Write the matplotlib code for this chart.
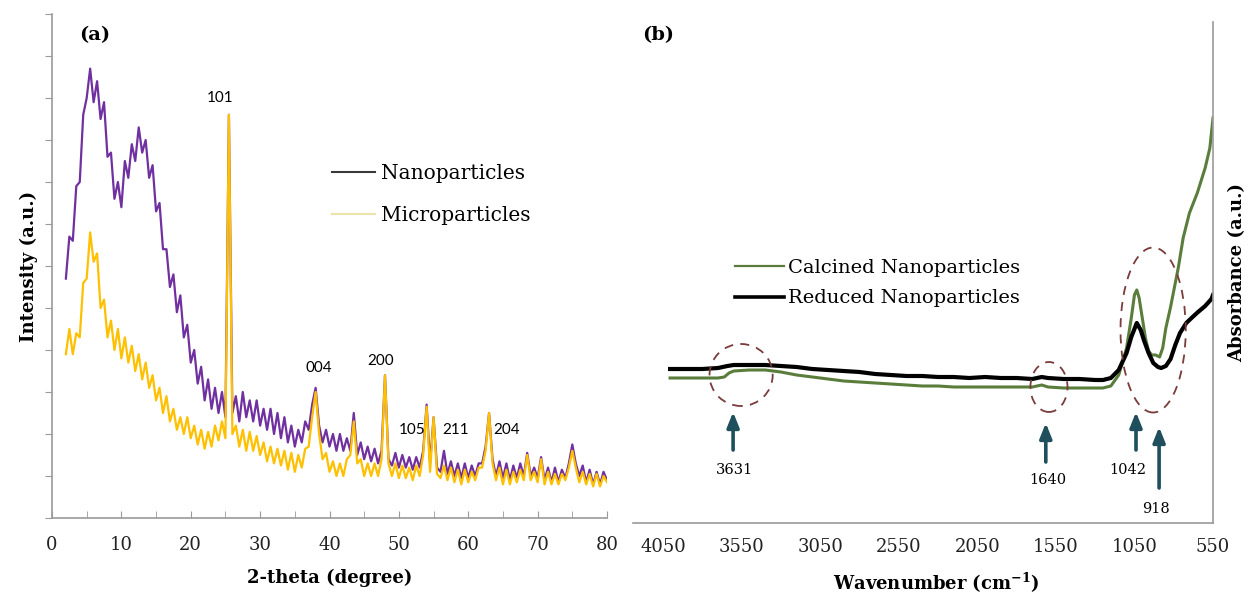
import numpy as np
import matplotlib
matplotlib.use('Agg')
import matplotlib.pyplot as plt
from matplotlib.lines import Line2D
from matplotlib.patches import Ellipse

plt.rcParams['font.family'] = ['DejaVu Serif']
plt.rcParams['mathtext.fontset'] = 'dejavuserif'

# ---- (a) XRD ----
TWO_THETA = np.arange(2.0, 80.01, 0.5)
NANO = [5.7, 6.7, 6.6, 7.9, 8.0, 9.6, 10.0, 10.7, 9.9, 10.4,
        9.5, 9.9, 8.6, 8.7, 7.6, 8.0, 7.4, 8.5, 8.1, 8.9,
        8.5, 9.3, 8.7, 9.0, 8.1, 8.4, 7.3, 7.5, 6.4, 6.4,
        5.5, 5.8, 4.9, 5.3, 4.3, 4.6, 3.7, 4.0, 3.2, 3.6,
        2.8, 3.3, 2.6, 3.1, 2.5, 3.0, 2.4, 9.6, 2.5, 2.9,
        2.3, 3.0, 2.4, 2.8, 2.3, 2.8, 2.2, 2.6, 2.1, 2.6,
        2.0, 2.5, 1.9, 2.4, 1.8, 2.2, 1.7, 2.1, 1.8, 2.3,
        2.1, 2.7, 3.1, 2.2, 1.8, 2.1, 1.7, 2.0, 1.6, 2.0,
        1.6, 1.9, 1.6, 2.5, 1.5, 1.8, 1.4, 1.7, 1.35, 1.65,
        1.3, 1.6, 3.4, 1.4, 1.25, 1.55, 1.2, 1.5, 1.2, 1.45,
        1.15, 1.45, 1.2, 1.6, 2.7, 1.3, 2.4, 1.2, 1.1, 1.6,
        1.05, 1.35, 1.0, 1.3, 0.95, 1.3, 0.95, 1.25, 1.0, 1.3,
        1.3, 1.7, 2.5, 1.4, 1.0, 1.35, 0.95, 1.3, 0.9, 1.25,
        0.95, 1.3, 1.0, 1.55, 1.0, 1.2, 0.95, 1.45, 0.9, 1.2,
        0.85, 1.2, 0.85, 1.15, 0.95, 1.3, 1.75, 1.3, 1.0, 1.25,
        0.85, 1.15, 0.8, 1.1, 0.8, 1.1, 0.9]
MICRO = [3.9, 4.5, 3.9, 4.4, 4.3, 5.6, 5.7, 6.8, 6.1, 6.3,
         5.0, 5.2, 4.3, 4.7, 4.0, 4.5, 3.8, 4.3, 3.7, 4.1,
         3.5, 3.9, 3.3, 3.7, 3.1, 3.4, 2.8, 3.1, 2.5, 2.9,
         2.3, 2.6, 2.1, 2.4, 2.0, 2.4, 1.9, 2.2, 1.75, 2.1,
         1.65, 2.05, 1.7, 2.2, 1.85, 2.3, 1.9, 9.6, 2.0, 2.2,
         1.7, 2.1, 1.6, 2.05, 1.6, 1.95, 1.5, 1.8, 1.35, 1.7,
         1.3, 1.65, 1.25, 1.6, 1.15, 1.55, 1.1, 1.5, 1.2, 1.65,
         1.7, 2.4, 3.0, 2.0, 1.4, 1.55, 1.1, 1.35, 1.0, 1.3,
         1.0, 1.4, 1.5, 2.3, 1.3, 1.4, 1.0, 1.3, 1.0, 1.3,
         1.0, 1.4, 3.4, 1.3, 1.0, 1.3, 0.95, 1.25, 0.95, 1.2,
         0.9, 1.25, 1.0, 1.5, 2.65, 1.1, 2.4, 1.05, 0.95, 1.25,
         0.9, 1.2, 0.85, 1.15, 0.8, 1.15, 0.85, 1.1, 0.9, 1.2,
         1.2, 1.6, 2.5, 1.3, 0.9, 1.2, 0.8, 1.15, 0.8, 1.1,
         0.85, 1.15, 0.9, 1.5, 0.9, 1.1, 0.85, 1.4, 0.8, 1.1,
         0.8, 1.05, 0.8, 1.05, 0.9, 1.2, 1.6, 1.2, 0.85, 1.1,
         0.8, 1.05, 0.75, 1.05, 0.75, 1.0, 0.85]
PEAK_LABELS = ['101', '004', '200', '105', '211', '204']
PEAK_LABEL_X = [24.2, 38.5, 47.4, 51.9, 58.2, 65.6]
PEAK_LABEL_Y = [10.0, 3.57, 3.74, 2.1, 2.1, 2.1]

# ---- (b) FTIR ----
WN_CALC = [4005, 3900, 3800, 3700, 3660, 3630, 3600, 3500, 3400, 3300,
           3200, 3100, 3000, 2900, 2800, 2700, 2600, 2500, 2400, 2300,
           2200, 2100, 2000, 1900, 1800, 1700, 1640, 1600, 1500, 1400,
           1300, 1250, 1200, 1150, 1100, 1070, 1050, 1035, 1020, 1000,
           980, 960, 940, 915, 890, 870, 850, 820, 790, 770,
           740, 700, 650, 600, 570, 550]
ABS_CALC = [1.45, 1.45, 1.45, 1.45, 1.46, 1.50, 1.52, 1.53, 1.53, 1.51,
            1.48, 1.46, 1.44, 1.42, 1.41, 1.40, 1.39, 1.38, 1.37, 1.37,
            1.36, 1.36, 1.36, 1.36, 1.36, 1.36, 1.38, 1.36, 1.35, 1.35,
            1.35, 1.35, 1.37, 1.48, 1.75, 2.05, 2.28, 2.33, 2.25, 2.05,
            1.85, 1.72, 1.68, 1.68, 1.66, 1.75, 1.95, 2.16, 2.40, 2.56,
            2.85, 3.10, 3.30, 3.55, 3.75, 4.05]
WN_RED = [4005, 3900, 3800, 3700, 3640, 3600, 3500, 3400, 3300, 3200,
          3100, 3000, 2900, 2800, 2700, 2600, 2500, 2400, 2300, 2200,
          2100, 2000, 1900, 1800, 1700, 1640, 1600, 1500, 1400, 1300,
          1250, 1200, 1150, 1100, 1070, 1035, 1010, 990, 960, 930,
          900, 880, 850, 820, 790, 760, 720, 680, 645, 600,
          560, 550]
ABS_RED = [1.54, 1.54, 1.54, 1.55, 1.57, 1.58, 1.58, 1.58, 1.57, 1.56,
           1.54, 1.53, 1.52, 1.51, 1.49, 1.48, 1.47, 1.47, 1.46, 1.46,
           1.45, 1.46, 1.45, 1.45, 1.44, 1.46, 1.45, 1.44, 1.44, 1.43,
           1.43, 1.45, 1.53, 1.70, 1.86, 2.00, 1.93, 1.83, 1.70, 1.60,
           1.56, 1.55, 1.57, 1.64, 1.78, 1.90, 2.00, 2.06, 2.11, 2.17,
           2.24, 2.28]
WN_TICKS = [4050, 3550, 3050, 2550, 2050, 1550, 1050, 550]
BAND_LABELS = ['3631', '1640', '1042', '918']
ARROW_X = [3604, 1614, 1040, 893]
ARROW_TAIL = [0.73, 0.61, 0.73, 0.35]
ARROW_HEAD = [1.11, 1.00, 1.11, 0.96]
BAND_LABEL_X = [3595, 1601, 1090, 912]
BAND_LABEL_Y = [0.53, 0.43, 0.53, 0.14]
RING_X = [3553, 1594, 931]
RING_Y = [1.48, 1.36, 1.93]
RING_W = [402, 236, 415]
RING_H = [0.62, 0.50, 1.65]

GRAY = '#9a9a9a'
TEAL = '#1f4e5c'

fig = plt.figure(figsize=(12.52, 5.94), dpi=100)
ax1 = fig.add_axes([52 / 1252, 76 / 594, 555 / 1252, 504 / 594])
ax2 = fig.add_axes([633 / 1252, 71 / 594, 580 / 1252, 501 / 594])

# --- (a) ---
ax1.plot(TWO_THETA, NANO, color='#7030A0', lw=1.6)
ax1.plot(TWO_THETA, MICRO, color='#FFC000', lw=1.6)
for s in ['top', 'right']:
    ax1.spines[s].set_visible(False)
for s in ['left', 'bottom']:
    ax1.spines[s].set_color(GRAY); ax1.spines[s].set_linewidth(1.2)
ax1.set_xlim(0, 80); ax1.set_ylim(0, 12)
ax1.set_xticks(range(0, 81, 10))
ax1.set_xticks(range(5, 80, 10), minor=True)
ax1.tick_params(axis='x', which='both', direction='in', length=5, color=GRAY,
                labelsize=13, pad=13, labelcolor='#222222')
ax1.set_yticks(range(0, 13)); ax1.set_yticklabels([])
ax1.tick_params(axis='y', direction='out', length=5, color=GRAY)
ax1.set_xlabel('2-theta (degree)', fontsize=13, fontweight='bold')
ax1.xaxis.set_label_coords(0.5, -0.1)
ax1.set_ylabel('Intensity (a.u.)', fontsize=13, fontweight='bold')
ax1.yaxis.set_label_coords(-0.025, 0.5)
for t, x, y in zip(PEAK_LABELS, PEAK_LABEL_X, PEAK_LABEL_Y):
    ax1.text(x, y, t, ha='center', va='center', fontsize=11, family=['Lato', 'DejaVu Sans'])
h1 = [Line2D([], [], color='#3a3a3a', lw=1.5), Line2D([], [], color='#ece3a8', lw=1.5)]
ax1.legend(h1, ['Nanoparticles', 'Microparticles'], loc='upper left',
           bbox_to_anchor=(0.5045, 0.702), frameon=False, fontsize=14.5,
           handlelength=2.15, handletextpad=0.3, labelspacing=1.15, borderpad=0,
           borderaxespad=0)
fig.text(95 / 1252, 1 - 35 / 594, '(a)', fontsize=14, fontweight='bold', ha='center', va='center')

# --- (b) ---
ax2.plot(WN_CALC, ABS_CALC, color='#5a7d3c', lw=2.2)
ax2.plot(WN_RED, ABS_RED, color='black', lw=3)
for s in ['top', 'left']:
    ax2.spines[s].set_visible(False)
for s in ['right', 'bottom']:
    ax2.spines[s].set_color(GRAY); ax2.spines[s].set_linewidth(1.2)
ax2.set_xlim(4241, 550); ax2.set_ylim(0, 5.01)
ax2.set_xticks(WN_TICKS)
ax2.set_yticks([])
ax2.tick_params(axis='x', length=0, labelsize=13, pad=11, labelcolor='#222222')
ax2.set_xlabel(r'Wavenumber (cm$^{\mathbf{-1}}$)', fontsize=13, fontweight='bold')
ax2.xaxis.set_label_coords(0.522, -0.095)
ax2.yaxis.set_label_position('right')
ax2.set_ylabel('Absorbance (a.u.)', fontsize=13, fontweight='bold')
ax2.yaxis.set_label_coords(1.026, 0.5)
for cx, cy, w, h in zip(RING_X, RING_Y, RING_W, RING_H):
    ax2.add_patch(Ellipse((cx, cy), w, h, fill=False, ec='#7a3b3b', lw=1.3,
                          ls=(0, (5, 4)), zorder=4))
for x, t0, t1 in zip(ARROW_X, ARROW_TAIL, ARROW_HEAD):
    ax2.annotate('', xy=(x, t1), xytext=(x, t0),
                 arrowprops=dict(arrowstyle='-|>,head_width=0.2,head_length=0.5',
                                 mutation_scale=18, lw=2.6, color=TEAL,
                                 shrinkA=0, shrinkB=0))
for t, x, y in zip(BAND_LABELS, BAND_LABEL_X, BAND_LABEL_Y):
    ax2.text(x, y, t, ha='center', va='center', fontsize=10.5)
h2 = [Line2D([], [], color='#5a7d3c', lw=1.6), Line2D([], [], color='black', lw=2.6)]
ax2.legend(h2, ['Calcined Nanoparticles', 'Reduced Nanoparticles'], loc='upper left',
           bbox_to_anchor=(0.176, 0.527), frameon=False, fontsize=14,
           handlelength=2.5, handletextpad=0.2, labelspacing=0.64, borderpad=0,
           borderaxespad=0)
fig.text(658 / 1252, 1 - 35 / 594, '(b)', fontsize=14, fontweight='bold', ha='center', va='center')

fig.savefig('out.png', dpi=100)
